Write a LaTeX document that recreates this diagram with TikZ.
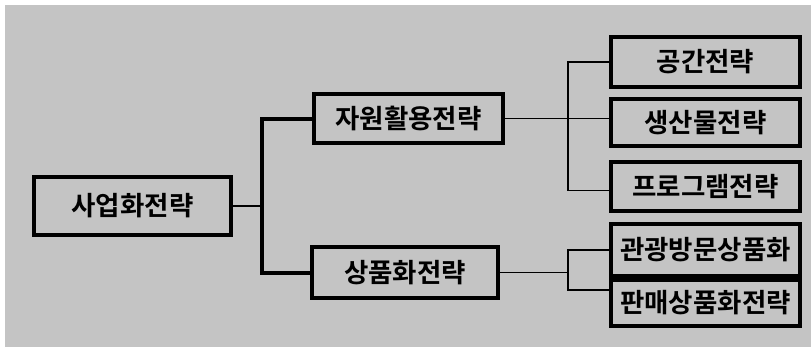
\documentclass[tikz,border=0pt]{standalone}
\usepackage{fontspec}
\newfontfamily\krfont{Noto Sans CJK KR}[BoldFont={* Bold}]
\definecolor{bggray}{RGB}{196,196,196}
\tikzset{
  box/.style={draw=black, line width=3.5pt, inner sep=0pt, font=\krfont\bfseries\fontsize{26.5}{30}\selectfont, text=black},
  thinline/.style={draw=black, line width=1.8pt},
  thickline/.style={draw=black, line width=4pt},
}
\begin{document}
\begin{tikzpicture}[x=1pt,y=-1pt]
\useasboundingbox (0,0) rectangle (811,349);
\fill[white] (0,0) rectangle (811,349);
\fill[bggray] (5,5) rectangle (811,347);
% nodes
\node[box, minimum width=197pt, minimum height=58pt] (A) at (132.5,206) {사업화전략};
\node[box, minimum width=189pt, minimum height=49pt] (B) at (408.5,118.5) {자원활용전략};
\node[box, minimum width=186pt, minimum height=51pt] (C) at (405,272.5) {상품화전략};
\node[box, minimum width=189pt, minimum height=50pt] (D) at (705.5,62) {공간전략};
\node[box, minimum width=189pt, minimum height=47pt] (E) at (705.5,122.5) {생산물전략};
\node[box, minimum width=189pt, minimum height=49pt] (F) at (705.5,186.5) {프로그램전략};
\node[box, minimum width=189pt, minimum height=52pt] (G) at (705.5,250) {관광방문상품화};
\node[box, minimum width=189pt, minimum height=46pt] (H) at (705.5,303) {판매상품화전략};
% junctions
\coordinate (j1) at (262,206);
\coordinate (j2) at (568,118.5);
\coordinate (j3) at (568,272.5);
\coordinate (hs) at ([yshift=-12pt]H.north west);
\coordinate (fs) at ([yshift=-4pt]F.west);
% connectors
\draw[thinline] (A.east) -- (j1);
\draw[thickline] (B.west) -| (j1) |- (C.west);
\draw[thinline] (B.east) -- (B.east -| E.west);
\draw[thinline] (D.west) -| (j2) |- (fs);
\draw[thinline] (C.east) -- (j3);
\draw[thinline] (G.west) -| (j3) |- (hs);
\end{tikzpicture}
\end{document}
